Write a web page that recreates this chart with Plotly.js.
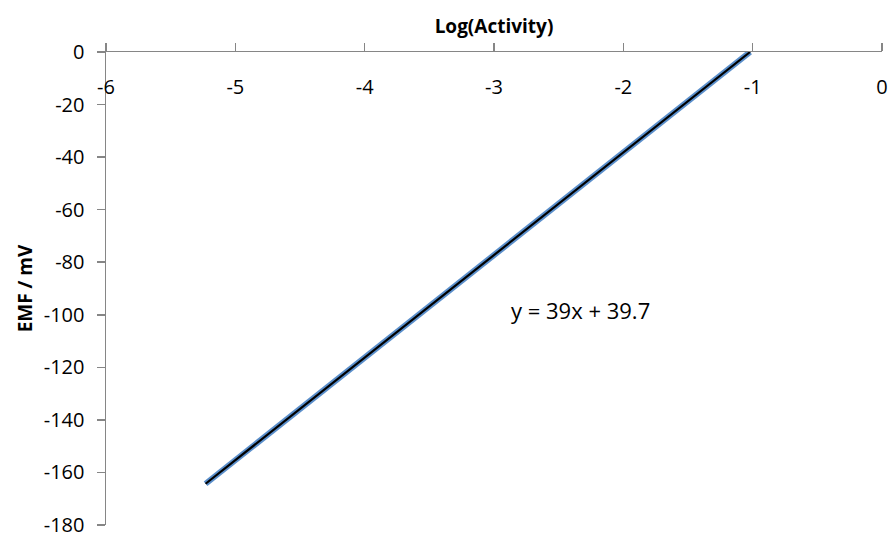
<!DOCTYPE html>
<html>
<head>
<meta charset="utf-8">
<script src="https://cdn.plot.ly/plotly-3.0.1.min.js"></script>
<style>html,body{margin:0;padding:0;background:#fff;}#chart{width:892px;height:538px;}</style>
</head>
<body>
<div id="chart"></div>
<script>
// Data
const logActivity = [-5.23, -1.02];
const emf = [-164.3, 0];
const trendX = [-5.23, -1.02];
const trendY = [-164.3, 0];
const xTicks = [-6, -5, -4, -3, -2, -1, 0];
const xTickText = ["-6", "-5", "-4", "-3", "-2", "-1", "0"];
const yTicks = [0, -20, -40, -60, -80, -100, -120, -140, -160, -180];
const yTickText = ["0", "-20", "-40", "-60", "-80", "-100", "-120", "-140", "-160", "-180"];
const equationText = "y = 39x + 39.7";

const fontFam = "'Open Sans', Lato, sans-serif";
const axisCol = "#868686";

const data = [
  {x: logActivity, y: emf, type: "scatter", mode: "lines",
   line: {color: "#5B8FCB", width: 6}, showlegend: false, hoverinfo: "skip"},
  {x: trendX, y: trendY, type: "scatter", mode: "lines",
   line: {color: "#000000", width: 2.2}, showlegend: false, hoverinfo: "skip"},
  // invisible trace to activate label axis
  {x: logActivity, y: emf, xaxis: "x2", type: "scatter", mode: "lines",
   line: {color: "rgba(0,0,0,0)", width: 0}, showlegend: false, hoverinfo: "skip"}
];

const layout = {
  width: 892, height: 538,
  margin: {l: 106, r: 10, t: 52, b: 13},
  paper_bgcolor: "#fff", plot_bgcolor: "rgba(0,0,0,0)",
  font: {family: fontFam, size: 20, color: "#000"},
  showlegend: false,
  xaxis: {
    range: [-6, 0], side: "top", tickvals: xTicks, showticklabels: false,
    ticks: "outside", ticklen: 8, tickcolor: axisCol, tickwidth: 1.5,
    showline: true, linecolor: axisCol, linewidth: 1.5,
    showgrid: false, zeroline: false,
    title: {text: "Log(Activity)", font: {family: fontFam, size: 19, color: "#000", weight: "bold"}, standoff: 4}
  },
  xaxis2: {
    range: [-6, 0], side: "bottom", overlaying: "x", anchor: "free", position: 0.956,
    tickvals: xTicks, ticktext: xTickText, ticks: "",
    showline: false, showgrid: false, zeroline: false,
    tickfont: {family: fontFam, size: 20, color: "#000"}
  },
  yaxis: {
    range: [-180, 0], tickvals: yTicks, ticktext: yTickText,
    ticks: "outside", ticklen: 8, tickcolor: axisCol, tickwidth: 1.5,
    ticklabelstandoff: 8,
    showline: true, linecolor: axisCol, linewidth: 1.5,
    showgrid: false, zeroline: false,
    tickfont: {family: fontFam, size: 20, color: "#000"},
    title: {text: "EMF / mV", font: {family: fontFam, size: 19, color: "#000", weight: "bold"}, standoff: 6}
  },
  annotations: [
    {x: -2.33, y: -98.1, xref: "x", yref: "y", text: equationText, showarrow: false,
     xanchor: "center", yanchor: "middle", font: {family: fontFam, size: 22, color: "#000"}}
  ]
};

Plotly.newPlot("chart", data, layout, {displayModeBar: false, staticPlot: true});
</script>
</body>
</html>
